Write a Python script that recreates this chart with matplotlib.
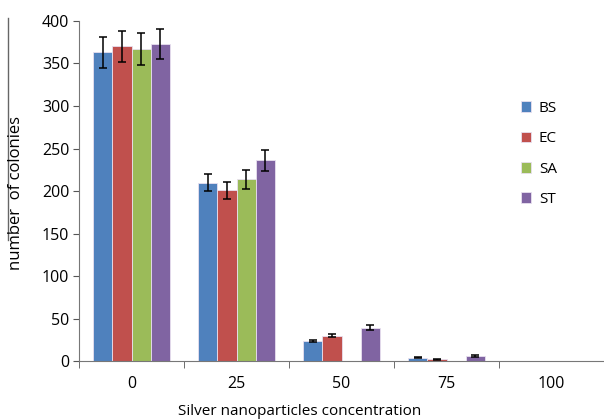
import numpy as np
import matplotlib.pyplot as plt
from matplotlib.lines import Line2D

plt.rcParams['font.family'] = ['Open Sans', 'DejaVu Sans']

concentrations = ['0', '25', '50', '75', '100']
series = ['BS', 'EC', 'SA', 'ST']
colors = ['#4F81BD', '#C0504D', '#9BBB59', '#8064A2']

bs = [363, 210, 23.5, 4, 0]
ec = [370, 201, 30, 2, 0]
sa = [367, 214, 0, 0, 0]
st = [373, 236, 39.5, 6, 0]

bs_err = [18, 10, 1.5, 0.8, 0]
ec_err = [18, 10, 2, 0.5, 0]
sa_err = [19, 11, 0, 0, 0]
st_err = [18, 12, 3, 1, 0]

values = [bs, ec, sa, st]
errors = [bs_err, ec_err, sa_err, st_err]

fig = plt.figure(figsize=(6.04, 4.19), dpi=100)
ax = fig.add_axes([0.131, 0.138, 0.869, 0.812])

x = np.arange(len(concentrations)) + 0.5
w = 0.183
for i in range(4):
    pos = x + (i - 1.5) * w
    vals = np.array(values[i])
    errs = np.array(errors[i])
    ax.bar(pos, vals, w, color=colors[i], edgecolor='#e8e0f0', linewidth=0.6, label=series[i])
    mask = errs > 0
    ax.errorbar(pos[mask], vals[mask], yerr=errs[mask], fmt='none', ecolor='black',
                elinewidth=1.1, capsize=3, capthick=1.1)

ax.set_xlim(0, 5)
ax.set_ylim(0, 400)
ax.set_yticks(range(0, 401, 50))
ax.set_xticks(x)
ax.set_xticklabels(concentrations)
ax.set_xticks(np.arange(0, 6), minor=True)
ax.tick_params(axis='x', which='major', length=0, pad=11, labelsize=11.5)
ax.tick_params(axis='x', which='minor', length=5, direction='out', color='#555555')
ax.tick_params(axis='y', length=4, direction='out', color='#555555', labelsize=11.5, pad=3)
for s in ['top', 'right']:
    ax.spines[s].set_visible(False)
for s in ['left', 'bottom']:
    ax.spines[s].set_color('#777777')

fig.text(300 / 604, 1 - 411 / 419, 'Silver nanoparticles concentration', fontsize=11,
         ha='center', va='center')
fig.text(0.027, 0.54, 'number  of colonies', rotation=90, fontsize=12,
         ha='center', va='center')
fig.add_artist(Line2D([0.014, 0.014], [0.957, 0.427], color='#666666', linewidth=1))

ax.legend(loc='upper left', bbox_to_anchor=(0.815, 0.805), frameon=False,
          handlelength=0.7, handleheight=0.7, labelspacing=1.0, fontsize=11,
          handletextpad=0.5)

fig.savefig('out.png', dpi=100)
